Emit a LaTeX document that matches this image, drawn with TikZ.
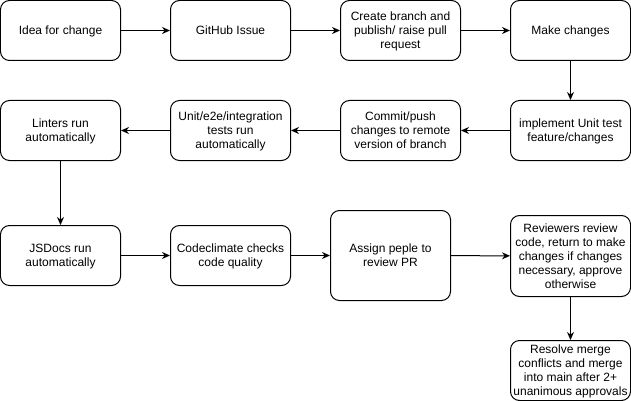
\documentclass[tikz,border=0pt]{standalone}
\usepackage{fontspec}
\setmainfont{Liberation Sans}
\usetikzlibrary{arrows.meta}
\begin{document}
\begin{tikzpicture}[x=1pt,y=-1pt,
		stepbox/.style={draw,rounded corners=9pt,minimum width=120pt,minimum height=60pt,inner sep=0pt,text depth=-1pt,align=center,line width=1pt,font=\fontsize{12}{14}\selectfont},
		flow/.style={-{Stealth[length=8pt,width=7pt]},line width=1pt}]
		\useasboundingbox (-0.5,-0.5) rectangle (630.5,400.5);
		% first row
		\node[stepbox] (idea) at (60,30) {Idea for change};
		\node[stepbox] (issue) at (230,30) {GitHub Issue};
		\node[stepbox] (branch) at (400,30) {Create branch and\\publish/ raise pull\\request};
		\node[stepbox] (make) at (570,30) {Make changes};
		% second row
		\node[stepbox] (impl) at (570,130) {implement Unit test\\feature/changes};
		\node[stepbox] (commit) at (400,130) {Commit/push\\changes to remote\\version of branch};
		\node[stepbox] (tests) at (230,130) {Unit/e2e/integration\\tests run\\automatically};
		\node[stepbox] (lint) at (60,130) {Linters run\\automatically};
		% third row
		\node[stepbox] (docs) at (60,255) {JSDocs run\\automatically};
		\node[stepbox] (climate) at (230,255) {Codeclimate checks\\code quality};
		\node[stepbox,minimum height=90pt] (assign) at (390,255) {Assign peple to\\review PR};
		\node[stepbox,minimum height=81pt] (review) at (570,255.5) {Reviewers review\\code, return to make\\changes if changes\\necessary, approve\\otherwise};
		\node[stepbox] (merge) at (570,370) {Resolve merge\\conflicts and merge\\into main after 2+\\unanimous approvals};
		\foreach \a/\b in {idea/issue,issue/branch,branch/make,make/impl,impl/commit,commit/tests,tests/lint,lint/docs,docs/climate,climate/assign,assign/review,review/merge}
			{
				\draw[flow] (\a) -- (\b);
			}
	\end{tikzpicture}
\end{document}
